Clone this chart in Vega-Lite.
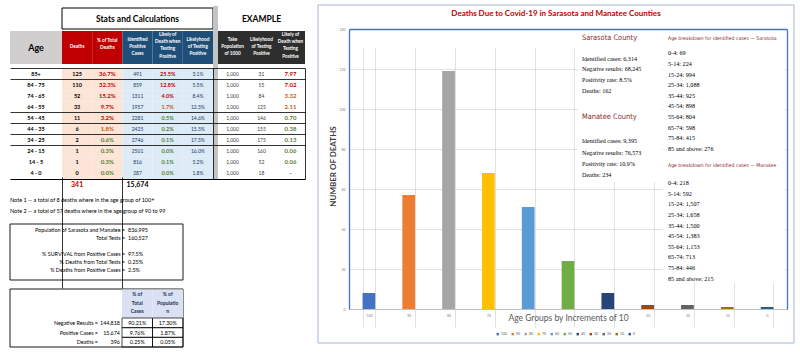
{
"$schema":"https://vega.github.io/schema/vega-lite/v6.json",
"width":800,"height":356,"padding":0,"autosize":{"type":"none"},"background":"#ffffff",
"config":{"view":{"stroke":null},"text":{"font":"Lato"},"axis":{"labelFont":"Lato","titleFont":"Lato"},"legend":{"labelFont":"Lato"}},
"datasets":{
"bars":[{"group":"100","deaths":8},{"group":"90","deaths":57},{"group":"80","deaths":119},{"group":"70","deaths":68},{"group":"60","deaths":51},{"group":"50","deaths":24},{"group":"40","deaths":8},{"group":"30","deaths":2},{"group":"20","deaths":2},{"group":"10","deaths":1},{"group":"0","deaths":1}],
"table":[
{"age":"85+","deaths":125,"pct":0.367,"cases":491,"dr":0.255,"tr":0.031,"pop":1000,"tp":31,"dp":7.97},
{"age":"84 - 75","deaths":110,"pct":0.323,"cases":859,"dr":0.128,"tr":0.055,"pop":1000,"tp":55,"dp":7.02},
{"age":"74 - 65","deaths":52,"pct":0.152,"cases":1311,"dr":0.040,"tr":0.084,"pop":1000,"tp":84,"dp":3.32},
{"age":"64 - 55","deaths":33,"pct":0.097,"cases":1957,"dr":0.017,"tr":0.125,"pop":1000,"tp":125,"dp":2.11},
{"age":"54 - 45","deaths":11,"pct":0.032,"cases":2281,"dr":0.005,"tr":0.146,"pop":1000,"tp":146,"dp":0.70},
{"age":"44 - 35","deaths":6,"pct":0.018,"cases":2425,"dr":0.002,"tr":0.155,"pop":1000,"tp":155,"dp":0.38},
{"age":"34 - 25","deaths":2,"pct":0.006,"cases":2746,"dr":0.001,"tr":0.175,"pop":1000,"tp":175,"dp":0.13},
{"age":"24 - 15","deaths":1,"pct":0.003,"cases":2501,"dr":0.0004,"tr":0.160,"pop":1000,"tp":160,"dp":0.06},
{"age":"14 - 5","deaths":1,"pct":0.003,"cases":816,"dr":0.001,"tr":0.052,"pop":1000,"tp":52,"dp":0.06},
{"age":"4 - 0","deaths":0,"pct":0.0,"cases":287,"dr":0.0,"tr":0.018,"pop":1000,"tp":18,"dp":0}
],
"statsHeads":[{"col":"deaths","row":"header","h":["Deaths"]},{"col":"pct","row":"header","h":["% of Total","Deaths"]},{"col":"cases","row":"header","h":["Identified","Positive","Cases"]},{"col":"dr","row":"header","h":["Likely of","Death when","Testing","Positive"]},{"col":"tr","row":"header","h":["Likelyhood","of Testing","Positive"]}],
"exampleHeads":[{"col":"pop","row":"header","h":["Take","Population","of 1000"]},{"col":"tp","row":"header","h":["Likelyhood","of Testing","Positive"]},{"col":"dp","row":"header","h":["Likely of","Death when","Testing","Positive"]}],
"totals":[{"col":"deaths","row":"total","total":341},{"col":"cases","row":"total","total":15674}],
"notes":[{"block":"notes","note":"Note 1","text":"Note 1 -- a total of 8 deaths where in the age group of 100+"},{"block":"notes","note":"Note 2","text":"Note 2 -- a total of 57 deaths where in the age group of 90 to 99"}],
"popbox":[{"block":"population","line":1,"label":"Population of Sarasota and Manatee =","value":"836,995"},{"block":"population","line":2,"label":"Total Tests =","value":"160,527"},{"block":"population","line":3,"label":"","value":""},{"block":"population","line":4,"label":"% SURVIVAL from Positive Cases =","value":"97.5%"},{"block":"population","line":5,"label":"% Deaths from Total Tests =","value":"0.25%"},{"block":"population","line":6,"label":"% Deaths from Positive Cases =","value":"2.5%"}],
"ratioHeads":[{"col":"pt","row":"header","h":["% of","Total","Cases"]},{"col":"pp","row":"header","h":["% of","Populatio","n"]}],
"ratios":[{"block":"ratios","r":1,"label":"Negative Results =","n":"144,818","pt":"90.21%","pp":"17.30%"},{"block":"ratios","r":2,"label":"Positive Cases =","n":"15,674","pt":"9.76%","pp":"1.87%"},{"block":"ratios","r":3,"label":"Deaths =","n":"396","pt":"0.25%","pp":"0.05%"}],
"overlay":[
{"panel":"counties","line":0,"kind":"county","text":"Sarasota County"},
{"panel":"counties","line":4,"kind":"line","text":"Identified cases: 6,314"},
{"panel":"counties","line":6,"kind":"line","text":"Negative results: 68,245"},
{"panel":"counties","line":8,"kind":"line","text":"Positivity rate: 8.5%"},
{"panel":"counties","line":10,"kind":"line","text":"Deaths: 162"},
{"panel":"counties","line":15,"kind":"county","text":"Manatee County"},
{"panel":"counties","line":19.5,"kind":"line","text":"Identified cases: 9,395"},
{"panel":"counties","line":21.7,"kind":"line","text":"Negative results: 76,573"},
{"panel":"counties","line":23.8,"kind":"line","text":"Positivity rate: 10.9%"},
{"panel":"counties","line":26,"kind":"line","text":"Deaths: 234"},
{"panel":"breakdown","line":0,"kind":"head","text":"Age breakdown for identified cases — Sarasota"},
{"panel":"breakdown","line":3,"kind":"line","text":"0-4: 69"},
{"panel":"breakdown","line":5,"kind":"line","text":"5-14: 224"},
{"panel":"breakdown","line":7,"kind":"line","text":"15-24: 994"},
{"panel":"breakdown","line":9,"kind":"line","text":"25-34: 1,088"},
{"panel":"breakdown","line":11,"kind":"line","text":"35-44: 925"},
{"panel":"breakdown","line":13,"kind":"line","text":"45-54: 898"},
{"panel":"breakdown","line":15,"kind":"line","text":"55-64: 804"},
{"panel":"breakdown","line":17,"kind":"line","text":"65-74: 598"},
{"panel":"breakdown","line":19,"kind":"line","text":"75-84: 415"},
{"panel":"breakdown","line":21,"kind":"line","text":"85 and above: 276"},
{"panel":"breakdown","line":24,"kind":"head","text":"Age breakdown for identified cases — Manatee"},
{"panel":"breakdown","line":27.5,"kind":"line","text":"0-4: 218"},
{"panel":"breakdown","line":29.5,"kind":"line","text":"5-14: 592"},
{"panel":"breakdown","line":31.5,"kind":"line","text":"15-24: 1,507"},
{"panel":"breakdown","line":33.5,"kind":"line","text":"25-34: 1,658"},
{"panel":"breakdown","line":35.5,"kind":"line","text":"35-44: 1,500"},
{"panel":"breakdown","line":37.5,"kind":"line","text":"45-54: 1,383"},
{"panel":"breakdown","line":39.5,"kind":"line","text":"55-64: 1,153"},
{"panel":"breakdown","line":41.5,"kind":"line","text":"65-74: 713"},
{"panel":"breakdown","line":43.5,"kind":"line","text":"75-84: 446"},
{"panel":"breakdown","line":45.5,"kind":"line","text":"85 and above: 215"}
]
},
"resolve":{"scale":{"x":"independent","y":"independent","color":"independent","size":"independent"},"axis":{"x":"independent","y":"independent"},"legend":{"color":"independent","size":"independent"}},
"layer":[
{"data":{"values":[{"panel":"chart"}]},"mark":{"type":"rect","filled":false,"stroke":"#A3B5CE","strokeWidth":1},
 "encoding":{"x":{"field":"panel","type":"nominal","scale":{"range":[318,794],"paddingInner":0,"paddingOuter":0},"axis":null},
             "y":{"field":"panel","type":"nominal","scale":{"range":[5,343],"paddingInner":0,"paddingOuter":0},"axis":null}}},
{"data":{"values":[{"title":"Deaths Due to Covid-19 in Sarasota and Manatee Counties"}]},"mark":{"type":"text","font":"Lato","fontWeight":"bold","fontSize":8,"color":"#C00000"},
 "encoding":{"text":{"field":"title"},"x":{"field":"title","type":"nominal","scale":{"range":[318,794],"paddingInner":0,"paddingOuter":0},"axis":null},
             "y":{"field":"title","type":"nominal","scale":{"range":[9,19],"paddingInner":0,"paddingOuter":0},"axis":null}}},
{"data":{"name":"bars"},"mark":{"type":"bar"},
 "encoding":{
  "x":{"field":"group","type":"nominal","sort":null,"scale":{"domain":["100","90","80","70","60","50","40","30","20","10","0"],"range":[349,787],"paddingInner":0.68,"paddingOuter":0.34},
       "axis":{"orient":"bottom","offset":-47,"title":"Age Groups by Increments of 10","titleFontSize":8.5,"titleFontWeight":"normal","titleColor":"#595959","titleY":8,"titleBaseline":"middle","labelFontSize":3.5,"labelColor":"#7F7F7F","labelOpacity":{"condition":{"test":"indexof(['60','50','40'], datum.value) >= 0","value":0},"value":1},"labelPadding":4,"labelAngle":0,"ticks":false,"domainColor":"#BFBFBF","grid":true,"gridColor":"#D9D9D9","gridWidth":0.8,"tickBand":"extent"}},
  "y":{"field":"deaths","type":"quantitative","scale":{"domain":[0,140],"range":[309,29],"nice":false},
       "axis":{"orient":"left","offset":-349,"values":[0,20,40,60,80,100,120,140],"title":"NUMBER OF DEATHS","titleFontSize":8,"titleFontWeight":"bold","titleColor":"#404040","titleX":-16,"titleY":166,"titleBaseline":"middle","labelFontSize":3.5,"labelColor":"#7F7F7F","labelPadding":4,"ticks":false,"domainColor":"#4472C4","domainWidth":1.3,"grid":true,"gridColor":"#D9D9D9","gridWidth":0.8}},
  "color":{"field":"group","type":"nominal","sort":null,"scale":{"domain":["100","90","80","70","60","50","40","30","20","10","0"],"range":["#4472C4","#ED7D31","#A5A5A5","#FFC000","#5B9BD5","#70AD47","#264478","#9E480E","#636363","#997300","#255E91"]},
       "legend":{"orient":"none","legendX":496,"legendY":332,"direction":"horizontal","columns":11,"title":null,"symbolType":"square","symbolSize":6,"symbolStrokeWidth":0,"labelFontSize":3.5,"labelColor":"#595959","columnPadding":3,"labelOffset":1.5,"padding":0}}
 }},
{"data":{"values":[{"panel":"plot"}]},"mark":{"type":"rect","opacity":0},
 "encoding":{"x":{"field":"panel","type":"nominal","scale":{"range":[349,787],"paddingInner":0,"paddingOuter":0},"axis":{"orient":"top","offset":-29,"labels":false,"ticks":false,"grid":false,"title":null,"domainColor":"#4472C4","domainWidth":1.3}},
             "y":{"field":"panel","type":"nominal","scale":{"range":[29,309],"paddingInner":0,"paddingOuter":0},"axis":{"orient":"right","offset":-13,"labels":false,"ticks":false,"grid":false,"title":null,"domainColor":"#4472C4","domainWidth":1.3}}}},
{"data":{"values":[{"panel":"counties"}]},"mark":{"type":"rect","color":"#ffffff"},
 "encoding":{"x":{"field":"panel","type":"nominal","scale":{"range":[578,662],"paddingInner":0,"paddingOuter":0},"axis":null},
             "y":{"field":"panel","type":"nominal","scale":{"range":[30,182],"paddingInner":0,"paddingOuter":0},"axis":null}}},
{"data":{"values":[{"panel":"breakdown"}]},"mark":{"type":"rect","color":"#ffffff"},
 "encoding":{"x":{"field":"panel","type":"nominal","scale":{"range":[663,785],"paddingInner":0,"paddingOuter":0},"axis":null},
             "y":{"field":"panel","type":"nominal","scale":{"range":[30,283],"paddingInner":0,"paddingOuter":0},"axis":null}}},
{"data":{"name":"overlay"},"transform":[{"filter":"datum.kind === 'county'"}],"mark":{"type":"text","align":"left","font":"DejaVu Sans Condensed","fontSize":7.4,"color":"#8B2A2A"},
 "encoding":{"text":{"field":"text"},"x":{"field":"panel","type":"nominal","scale":{"domain":["counties","breakdown"],"range":[539,711],"paddingInner":0,"paddingOuter":0},"axis":null},
             "y":{"field":"line","type":"quantitative","scale":{"domain":[0,50],"range":[37.5,302.5],"nice":false,"zero":false},"axis":null}}},
{"data":{"name":"overlay"},"transform":[{"filter":"datum.kind === 'head'"}],"mark":{"type":"text","align":"left","font":"DejaVu Sans Condensed","fontSize":5.1,"color":"#8B2A2A"},
 "encoding":{"text":{"field":"text"},"x":{"field":"panel","type":"nominal","scale":{"domain":["counties","breakdown"],"range":[539,711],"paddingInner":0,"paddingOuter":0},"axis":null},
             "y":{"field":"line","type":"quantitative","scale":{"domain":[0,50],"range":[37.5,302.5],"nice":false,"zero":false},"axis":null}}},
{"data":{"name":"overlay"},"transform":[{"filter":"datum.kind === 'line'"}],"mark":{"type":"text","align":"left","font":"Liberation Serif","color":"#000000"},
 "encoding":{"text":{"field":"text"},"x":{"field":"panel","type":"nominal","scale":{"domain":["counties","breakdown"],"range":[539,711],"paddingInner":0,"paddingOuter":0},"axis":null},
             "y":{"field":"line","type":"quantitative","scale":{"domain":[0,50],"range":[37.5,302.5],"nice":false,"zero":false},"axis":null},
             "size":{"field":"panel","type":"nominal","scale":{"domain":["counties","breakdown"],"range":[6.1,6.2]},"legend":null}}},
{"data":{"values":[{"part":"Stats and Calculations"}]},"mark":{"type":"rect","fill":"#ffffff","stroke":"#000000","strokeWidth":1},
 "encoding":{"x":{"field":"part","type":"nominal","scale":{"range":[62,213],"paddingInner":0,"paddingOuter":0},"axis":null},
             "y":{"field":"part","type":"nominal","scale":{"range":[8,29],"paddingInner":0,"paddingOuter":0},"axis":null}}},
{"data":{"values":[{"part":"Stats and Calculations"}]},"mark":{"type":"text","fontWeight":"bold","fontSize":8.5,"color":"#000000"},
 "encoding":{"text":{"field":"part"},"x":{"field":"part","type":"nominal","scale":{"range":[62,213],"paddingInner":0,"paddingOuter":0},"axis":null},
             "y":{"field":"part","type":"nominal","scale":{"range":[8,29],"paddingInner":0,"paddingOuter":0},"axis":null}}},
{"data":{"values":[{"part":"EXAMPLE"}]},"mark":{"type":"text","fontWeight":"bold","fontSize":8.5,"color":"#000000"},
 "encoding":{"text":{"field":"part"},"x":{"field":"part","type":"nominal","scale":{"range":[218,305],"paddingInner":0,"paddingOuter":0},"axis":null},
             "y":{"field":"part","type":"nominal","scale":{"range":[8,29],"paddingInner":0,"paddingOuter":0},"axis":null}}},
{"data":{"values":[{"part":"separator"}]},"mark":{"type":"rect","color":"#C4C4C4"},
 "encoding":{"x":{"field":"part","type":"nominal","scale":{"range":[213,218],"paddingInner":0,"paddingOuter":0},"axis":null},
             "y":{"field":"part","type":"nominal","scale":{"range":[6,180],"paddingInner":0,"paddingOuter":0},"axis":null}}},
{"data":{"values":[{"part":"Age"}]},"mark":{"type":"rect","color":"#D0CECE"},
 "encoding":{"x":{"field":"part","type":"nominal","scale":{"range":[10,62],"paddingInner":0,"paddingOuter":0},"axis":null},
             "y":{"field":"part","type":"nominal","scale":{"range":[31,64],"paddingInner":0,"paddingOuter":0},"axis":null}}},
{"data":{"values":[{"part":"Age"}]},"mark":{"type":"text","fontWeight":"bold","fontSize":9,"color":"#000000"},
 "encoding":{"text":{"field":"part"},"x":{"field":"part","type":"nominal","scale":{"range":[10,62],"paddingInner":0,"paddingOuter":0},"axis":null},
             "y":{"field":"part","type":"nominal","scale":{"range":[31,64],"paddingInner":0,"paddingOuter":0},"axis":null}}},
{"data":{"name":"statsHeads"},"mark":{"type":"rect"},
 "encoding":{"x":{"field":"col","type":"nominal","scale":{"domain":["deaths","pct","cases","dr","tr"],"range":[62,213],"paddingInner":0,"paddingOuter":0},"axis":null},
             "y":{"field":"row","type":"nominal","scale":{"range":[31,64],"paddingInner":0,"paddingOuter":0},"axis":null},
             "color":{"field":"col","type":"nominal","scale":{"domain":["deaths","pct","cases","dr","tr"],"range":["#C00000","#C00000","#1F4E78","#1F4E78","#1F4E78"]},"legend":null}}},
{"data":{"name":"statsHeads"},"transform":[{"filter":"length(datum.h) === 1"}],"mark":{"type":"text","fontWeight":"bold","fontSize":4.7,"lineHeight":7,"color":"#ffffff"},
 "encoding":{"text":{"field":"h"},"x":{"field":"col","type":"nominal","scale":{"domain":["deaths","pct","cases","dr","tr"],"range":[62,213],"paddingInner":0,"paddingOuter":0},"axis":null},
             "y":{"field":"row","type":"nominal","scale":{"range":[46,48],"paddingInner":0,"paddingOuter":0},"axis":null}}},
{"data":{"name":"statsHeads"},"transform":[{"filter":"length(datum.h) === 2"}],"mark":{"type":"text","fontWeight":"bold","fontSize":4.7,"lineHeight":7,"color":"#ffffff"},
 "encoding":{"text":{"field":"h"},"x":{"field":"col","type":"nominal","scale":{"domain":["deaths","pct","cases","dr","tr"],"range":[62,213],"paddingInner":0,"paddingOuter":0},"axis":null},
             "y":{"field":"row","type":"nominal","scale":{"range":[40,42],"paddingInner":0,"paddingOuter":0},"axis":null}}},
{"data":{"name":"statsHeads"},"transform":[{"filter":"length(datum.h) === 3"}],"mark":{"type":"text","fontWeight":"bold","fontSize":4.7,"lineHeight":7,"color":"#ffffff"},
 "encoding":{"text":{"field":"h"},"x":{"field":"col","type":"nominal","scale":{"domain":["deaths","pct","cases","dr","tr"],"range":[62,213],"paddingInner":0,"paddingOuter":0},"axis":null},
             "y":{"field":"row","type":"nominal","scale":{"range":[39,41],"paddingInner":0,"paddingOuter":0},"axis":null}}},
{"data":{"name":"statsHeads"},"transform":[{"filter":"length(datum.h) === 4"}],"mark":{"type":"text","fontWeight":"bold","fontSize":4.7,"lineHeight":7.2,"color":"#ffffff"},
 "encoding":{"text":{"field":"h"},"x":{"field":"col","type":"nominal","scale":{"domain":["deaths","pct","cases","dr","tr"],"range":[62,213],"paddingInner":0,"paddingOuter":0},"axis":null},
             "y":{"field":"row","type":"nominal","scale":{"range":[34,36],"paddingInner":0,"paddingOuter":0},"axis":null}}},
{"data":{"name":"exampleHeads"},"mark":{"type":"rect","color":"#2E2E2E"},
 "encoding":{"x":{"field":"col","type":"nominal","scale":{"domain":["pop","tp","dp"],"range":[218,305],"paddingInner":0,"paddingOuter":0},"axis":null},
             "y":{"field":"row","type":"nominal","scale":{"range":[31,64],"paddingInner":0,"paddingOuter":0},"axis":null}}},
{"data":{"name":"exampleHeads"},"transform":[{"filter":"length(datum.h) === 3"}],"mark":{"type":"text","fontWeight":"bold","fontSize":4.7,"lineHeight":7,"color":"#ffffff"},
 "encoding":{"text":{"field":"h"},"x":{"field":"col","type":"nominal","scale":{"domain":["pop","tp","dp"],"range":[218,305],"paddingInner":0,"paddingOuter":0},"axis":null},
             "y":{"field":"row","type":"nominal","scale":{"range":[39,41],"paddingInner":0,"paddingOuter":0},"axis":null}}},
{"data":{"name":"exampleHeads"},"transform":[{"filter":"length(datum.h) === 4"}],"mark":{"type":"text","fontWeight":"bold","fontSize":4.7,"lineHeight":7.2,"color":"#ffffff"},
 "encoding":{"text":{"field":"h"},"x":{"field":"col","type":"nominal","scale":{"domain":["pop","tp","dp"],"range":[218,305],"paddingInner":0,"paddingOuter":0},"axis":null},
             "y":{"field":"row","type":"nominal","scale":{"range":[34,36],"paddingInner":0,"paddingOuter":0},"axis":null}}},
{"data":{"name":"table"},"transform":[{"fold":["deaths","pct","cases","dr","tr"],"as":["col","val"]}],"mark":{"type":"rect"},
 "encoding":{"x":{"field":"col","type":"nominal","scale":{"domain":["deaths","pct","cases","dr","tr"],"range":[62,213],"paddingInner":0,"paddingOuter":0},
                  "axis":{"orient":"bottom","values":["deaths","cases"],"bandPosition":0,"grid":true,"gridColor":"#000000","gridWidth":0.8,"domain":false,"labels":false,"ticks":false,"title":null,"zindex":1}},
             "y":{"field":"age","type":"nominal","scale":{"domain":["85+","84 - 75","74 - 65","64 - 55","54 - 45","44 - 35","34 - 25","24 - 15","14 - 5","4 - 0"],"range":[68,179],"paddingInner":0,"paddingOuter":0},
                  "axis":{"orient":"right","offset":-587,"domain":true,"domainColor":"#000000","domainWidth":0.8,"labels":false,"ticks":false,"grid":false,"title":null,"zindex":1}},
             "color":{"field":"col","type":"nominal","scale":{"domain":["deaths","pct","cases","dr","tr"],"range":["#FCE4D6","#FCE4D6","#DDEBF7","#DDEBF7","#DDEBF7"]},"legend":null}}},
{"data":{"name":"table"},"mark":{"type":"text","fontWeight":"bold","fontSize":5.5,"color":"#000000"},
 "encoding":{"text":{"field":"age"},"x":{"field":"pop","type":"nominal","scale":{"range":[10,62],"paddingInner":0,"paddingOuter":0},"axis":null},
             "y":{"field":"age","type":"nominal","scale":{"domain":["85+","84 - 75","74 - 65","64 - 55","54 - 45","44 - 35","34 - 25","24 - 15","14 - 5","4 - 0"],"range":[68,179],"paddingInner":0,"paddingOuter":0},"axis":null}}},
{"data":{"name":"table"},"transform":[{"fold":["deaths"],"as":["col","val"]}],"mark":{"type":"text","fontWeight":"bold","fontSize":5.5,"color":"#000000"},
 "encoding":{"text":{"field":"val","type":"quantitative","format":"d"},"x":{"field":"col","type":"nominal","scale":{"domain":["deaths","pct","cases","dr","tr"],"range":[62,213],"paddingInner":0,"paddingOuter":0},"axis":null},
             "y":{"field":"age","type":"nominal","scale":{"domain":["85+","84 - 75","74 - 65","64 - 55","54 - 45","44 - 35","34 - 25","24 - 15","14 - 5","4 - 0"],"range":[68,179],"paddingInner":0,"paddingOuter":0},"axis":null}}},
{"data":{"name":"table"},"transform":[{"fold":["pct"],"as":["col","val"]}],"mark":{"type":"text","fontWeight":"bold","fontSize":6},
 "encoding":{"text":{"field":"val","type":"quantitative","format":".1%"},"x":{"field":"col","type":"nominal","scale":{"domain":["deaths","pct","cases","dr","tr"],"range":[62,213],"paddingInner":0,"paddingOuter":0},"axis":null},
             "y":{"field":"age","type":"nominal","scale":{"domain":["85+","84 - 75","74 - 65","64 - 55","54 - 45","44 - 35","34 - 25","24 - 15","14 - 5","4 - 0"],"range":[68,179],"paddingInner":0,"paddingOuter":0},"axis":null},
             "color":{"field":"val","type":"quantitative","scale":{"type":"threshold","domain":[0.01,0.03],"range":["#548235","#C65911","#C00000"]},"legend":null}}},
{"data":{"name":"table"},"transform":[{"fold":["cases"],"as":["col","val"]}],"mark":{"type":"text","fontSize":5,"color":"#1F3864"},
 "encoding":{"text":{"field":"val","type":"quantitative","format":"d"},"x":{"field":"col","type":"nominal","scale":{"domain":["deaths","pct","cases","dr","tr"],"range":[62,213],"paddingInner":0,"paddingOuter":0},"axis":null},
             "y":{"field":"age","type":"nominal","scale":{"domain":["85+","84 - 75","74 - 65","64 - 55","54 - 45","44 - 35","34 - 25","24 - 15","14 - 5","4 - 0"],"range":[68,179],"paddingInner":0,"paddingOuter":0},"axis":null}}},
{"data":{"name":"table"},"transform":[{"fold":["dr"],"as":["col","val"]}],"mark":{"type":"text","fontWeight":"bold","fontSize":5.5},
 "encoding":{"text":{"field":"val","type":"quantitative","format":".1%"},"x":{"field":"col","type":"nominal","scale":{"domain":["deaths","pct","cases","dr","tr"],"range":[62,213],"paddingInner":0,"paddingOuter":0},"axis":null},
             "y":{"field":"age","type":"nominal","scale":{"domain":["85+","84 - 75","74 - 65","64 - 55","54 - 45","44 - 35","34 - 25","24 - 15","14 - 5","4 - 0"],"range":[68,179],"paddingInner":0,"paddingOuter":0},"axis":null},
             "color":{"field":"val","type":"quantitative","scale":{"type":"threshold","domain":[0.01,0.03],"range":["#548235","#C65911","#C00000"]},"legend":null}}},
{"data":{"name":"table"},"transform":[{"fold":["tr"],"as":["col","val"]}],"mark":{"type":"text","fontSize":5,"color":"#1F3864"},
 "encoding":{"text":{"field":"val","type":"quantitative","format":".1%"},"x":{"field":"col","type":"nominal","scale":{"domain":["deaths","pct","cases","dr","tr"],"range":[62,213],"paddingInner":0,"paddingOuter":0},"axis":null},
             "y":{"field":"age","type":"nominal","scale":{"domain":["85+","84 - 75","74 - 65","64 - 55","54 - 45","44 - 35","34 - 25","24 - 15","14 - 5","4 - 0"],"range":[68,179],"paddingInner":0,"paddingOuter":0},"axis":null}}},
{"data":{"name":"table"},"transform":[{"fold":["pop"],"as":["col","val"]}],"mark":{"type":"text","fontSize":5,"color":"#404040"},
 "encoding":{"text":{"field":"val","type":"quantitative","format":","},"x":{"field":"col","type":"nominal","scale":{"domain":["pop","tp","dp"],"range":[218,305],"paddingInner":0,"paddingOuter":0},"axis":null},
             "y":{"field":"age","type":"nominal","scale":{"domain":["85+","84 - 75","74 - 65","64 - 55","54 - 45","44 - 35","34 - 25","24 - 15","14 - 5","4 - 0"],"range":[68,179],"paddingInner":0,"paddingOuter":0},
                  "axis":{"orient":"right","offset":-495,"domain":true,"domainColor":"#000000","domainWidth":0.8,"labels":false,"ticks":false,"grid":false,"title":null,"zindex":1}}}},
{"data":{"name":"table"},"transform":[{"fold":["tp"],"as":["col","val"]}],"mark":{"type":"text","fontSize":5,"color":"#404040"},
 "encoding":{"text":{"field":"val","type":"quantitative","format":"d"},"x":{"field":"col","type":"nominal","scale":{"domain":["pop","tp","dp"],"range":[218,305],"paddingInner":0,"paddingOuter":0},"axis":null},
             "y":{"field":"age","type":"nominal","scale":{"domain":["85+","84 - 75","74 - 65","64 - 55","54 - 45","44 - 35","34 - 25","24 - 15","14 - 5","4 - 0"],"range":[68,179],"paddingInner":0,"paddingOuter":0},"axis":null}}},
{"data":{"name":"table"},"transform":[{"fold":["dp"],"as":["col","val"]}],"mark":{"type":"text","fontWeight":"bold","fontSize":6},
 "encoding":{"text":{"condition":{"test":"datum.val === 0","value":"-"},"field":"val","type":"quantitative","format":".2f"},"x":{"field":"col","type":"nominal","scale":{"domain":["pop","tp","dp"],"range":[218,305],"paddingInner":0,"paddingOuter":0},"axis":null},
             "y":{"field":"age","type":"nominal","scale":{"domain":["85+","84 - 75","74 - 65","64 - 55","54 - 45","44 - 35","34 - 25","24 - 15","14 - 5","4 - 0"],"range":[68,179],"paddingInner":0,"paddingOuter":0},"axis":null},
             "color":{"field":"val","type":"quantitative","scale":{"type":"threshold","domain":[0.01,1,5],"range":["#404040","#548235","#C65911","#C00000"]},"legend":null}}},
{"data":{"name":"table"},"mark":{"type":"rect","opacity":0},
 "encoding":{"x":{"field":"pop","type":"nominal","scale":{"range":[10,305],"paddingInner":0,"paddingOuter":0},
                  "axis":{"orient":"bottom","offset":-177,"domain":true,"domainColor":"#000000","domainWidth":1,"labels":false,"ticks":false,"grid":false,"title":null,"zindex":1}},
             "y":{"field":"age","type":"nominal","scale":{"domain":["85+","84 - 75","74 - 65","64 - 55","54 - 45","44 - 35","34 - 25","24 - 15","14 - 5","4 - 0"],"range":[68,179],"paddingInner":0,"paddingOuter":0},
                  "axis":{"orient":"left","offset":-10,"domain":false,"labels":false,"ticks":false,"grid":true,"gridColor":"#000000","gridWidth":0.8,"values":["85+","84 - 75","54 - 45","44 - 35","34 - 25","24 - 15"],"bandPosition":0,"title":null,"zindex":1}}}},
{"data":{"name":"totals"},"mark":{"type":"text","fontWeight":"bold","fontSize":7},
 "encoding":{"text":{"field":"total","type":"quantitative","format":","},"x":{"field":"col","type":"nominal","scale":{"domain":["deaths","pct","cases","dr","tr"],"range":[62,213],"paddingInner":0,"paddingOuter":0},"axis":null},
             "y":{"field":"row","type":"nominal","scale":{"range":[179,190],"paddingInner":0,"paddingOuter":0},"axis":null},
             "color":{"field":"col","type":"nominal","scale":{"domain":["deaths","cases"],"range":["#C00000","#000000"]},"legend":null}}},
{"data":{"name":"notes"},"mark":{"type":"text","align":"left","fontSize":5.5,"color":"#000000"},
 "encoding":{"text":{"field":"text"},"x":{"field":"block","type":"nominal","scale":{"range":[9,11],"paddingInner":0,"paddingOuter":0},"axis":null},
             "y":{"field":"note","type":"nominal","scale":{"range":[195,216],"paddingInner":0,"paddingOuter":0},"axis":null}}},
{"data":{"values":[{"block":"population"}]},"mark":{"type":"rect","fill":"#ffffff","stroke":"#000000","strokeWidth":0.9},
 "encoding":{"x":{"field":"block","type":"nominal","scale":{"range":[10,183],"paddingInner":0,"paddingOuter":0},"axis":null},
             "y":{"field":"block","type":"nominal","scale":{"range":[224,280],"paddingInner":0,"paddingOuter":0},"axis":null}}},
{"data":{"name":"popbox"},"mark":{"type":"text","align":"right","fontSize":5.4,"color":"#000000"},
 "encoding":{"text":{"field":"label"},"x":{"field":"block","type":"nominal","scale":{"range":[124,126],"paddingInner":0,"paddingOuter":0},"axis":null},
             "y":{"field":"line","type":"ordinal","scale":{"range":[226,274],"paddingInner":0,"paddingOuter":0},"axis":null}}},
{"data":{"name":"popbox"},"mark":{"type":"text","align":"left","fontSize":5.4,"color":"#000000"},
 "encoding":{"text":{"field":"value"},"x":{"field":"block","type":"nominal","scale":{"range":[127,129],"paddingInner":0,"paddingOuter":0},"axis":null},
             "y":{"field":"line","type":"ordinal","scale":{"range":[226,274],"paddingInner":0,"paddingOuter":0},"axis":null}}},
{"data":{"values":[{"block":"ratios"}]},"mark":{"type":"rect","fill":"#ffffff","stroke":"#000000","strokeWidth":0.9},
 "encoding":{"x":{"field":"block","type":"nominal","scale":{"range":[10,183],"paddingInner":0,"paddingOuter":0},"axis":null},
             "y":{"field":"block","type":"nominal","scale":{"range":[289,347],"paddingInner":0,"paddingOuter":0},"axis":null}}},
{"data":{"name":"ratioHeads"},"mark":{"type":"rect","color":"#D9E1F2"},
 "encoding":{"x":{"field":"col","type":"nominal","scale":{"domain":["pt","pp"],"range":[122,183],"paddingInner":0,"paddingOuter":0},"axis":null},
             "y":{"field":"row","type":"nominal","scale":{"range":[289.5,318],"paddingInner":0,"paddingOuter":0},"axis":null}}},
{"data":{"name":"ratioHeads"},"mark":{"type":"text","fontWeight":"bold","fontSize":5,"lineHeight":8.5,"color":"#1F2F4F"},
 "encoding":{"text":{"field":"h"},"x":{"field":"col","type":"nominal","scale":{"domain":["pt","pp"],"range":[122,183],"paddingInner":0,"paddingOuter":0},"axis":null},
             "y":{"field":"row","type":"nominal","scale":{"range":[293,295],"paddingInner":0,"paddingOuter":0},"axis":null}}},
{"data":{"name":"ratios"},"transform":[{"fold":["pt","pp"],"as":["col","val"]}],"mark":{"type":"rect","filled":false,"stroke":"#000000","strokeWidth":0.7},
 "encoding":{"x":{"field":"col","type":"nominal","scale":{"domain":["pt","pp"],"range":[122,183],"paddingInner":0,"paddingOuter":0},"axis":null},
             "y":{"field":"r","type":"ordinal","scale":{"range":[318,347],"paddingInner":0,"paddingOuter":0},"axis":null}}},
{"data":{"name":"ratios"},"mark":{"type":"text","align":"right","fontSize":5.4,"color":"#000000"},
 "encoding":{"text":{"field":"label"},"x":{"field":"block","type":"nominal","scale":{"range":[97,99],"paddingInner":0,"paddingOuter":0},"axis":null},
             "y":{"field":"r","type":"ordinal","scale":{"range":[318,347],"paddingInner":0,"paddingOuter":0},"axis":null}}},
{"data":{"name":"ratios"},"mark":{"type":"text","align":"right","fontSize":5.4,"color":"#000000"},
 "encoding":{"text":{"field":"n"},"x":{"field":"block","type":"nominal","scale":{"range":[119,121],"paddingInner":0,"paddingOuter":0},"axis":null},
             "y":{"field":"r","type":"ordinal","scale":{"range":[318,347],"paddingInner":0,"paddingOuter":0},"axis":null}}},
{"data":{"name":"ratios"},"transform":[{"fold":["pt","pp"],"as":["col","val"]}],"mark":{"type":"text","fontSize":5.4,"color":"#000000"},
 "encoding":{"text":{"field":"val"},"x":{"field":"col","type":"nominal","scale":{"domain":["pt","pp"],"range":[122,183],"paddingInner":0,"paddingOuter":0},"axis":null},
             "y":{"field":"r","type":"ordinal","scale":{"range":[318,347],"paddingInner":0,"paddingOuter":0},"axis":null}}}
]
}
